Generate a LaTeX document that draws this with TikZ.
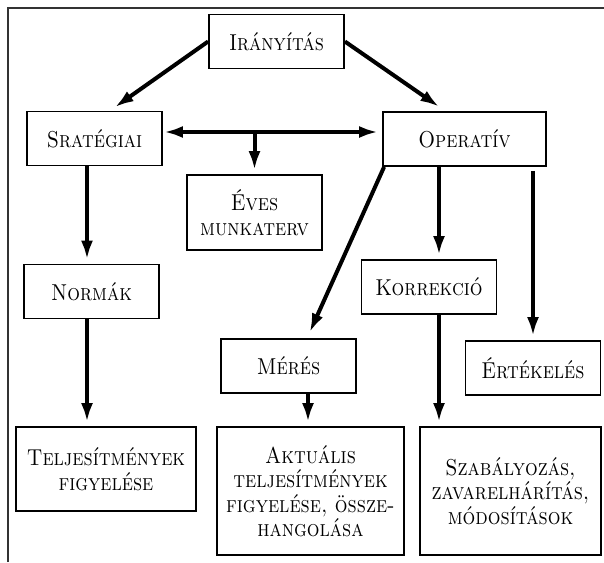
\documentclass[tikz,border=0pt]{standalone}
\usepackage{fontspec}
\setmainfont{Latin Modern Roman}[FakeStretch=0.87, SmallCapsFont={Latin Modern Roman Caps}, SmallCapsFeatures={FakeStretch=0.87}]
\usepackage{xcolor}
\usepackage{tikz}
\usetikzlibrary{arrows.meta}

\begin{document}
\begin{tikzpicture}[x=1pt,y=-1pt]
			\tikzstyle{box} = [draw, line width=1.8pt, minimum width=135pt, minimum height=54pt, inner sep=2pt, align=center, font=\fontsize{23}{24.5}\selectfont\scshape]
			\tikzstyle{bigbox} = [box, minimum width=182pt, minimum height=84pt]
			\tikzset{edge/.style = {line width=4pt, shorten >=4pt, -{Latex[length=19pt,width=12pt]}}}
			
			\useasboundingbox (0,0) rectangle (604,562);
			\draw[line width=1.6pt, black!80] (8,562) -- (8,8) -- (604,8);
			
			\node[box](iranyitas) at (276.5,41.5) {Irányítás};
			\node[box](strat) at (94.5,138.5) {Sratégiai};
			\node[box, minimum width=163pt](oper) at (464.5,139) {Operatív};
			\node[box, minimum height=75pt](eves) at (254.5,212.5) {Éves\\munkaterv};
			\node[box](normak) at (91.5,291.5) {Normák};
			\node[box](korr) at (429,287) {Korrekció};
			\node[box](meres) at (288.5,366) {Mérés};
			\node[box](ertek) at (533,368) {Értékelés};
			
			\node[bigbox, minimum width=180pt](telj) at (106,469) {Teljesítmények\\figyelése};
			\node[bigbox, minimum width=187pt, minimum height=128pt](aktual) at (310.5,491) {Aktuális\\teljesítmények\\figyelése, össze-\\hangolása};
			\node[bigbox, minimum width=181pt, minimum height=128pt](szab) at (510.5,491) {Szabályozás,\\zavarelhárítás,\\módosítások};
			
			\coordinate (stratin) at ([xshift=17pt,yshift=1pt]strat.north);
			\coordinate (operin) at ([xshift=-22pt,yshift=2pt]oper.north);
			\draw[edge](iranyitas.west) to (stratin);
			\draw[edge](iranyitas.east) to (operin);
			
			\draw[edge, shorten <=1pt, {Latex[length=19pt,width=12pt]}-{Latex[length=19pt,width=12pt]}]([yshift=6.5pt]strat.east) to ([yshift=6.5pt]strat.east -| oper.west);
			\coordinate (split) at ([yshift=6.5pt]strat.east -| eves.north);
			\draw[edge](split) to (eves.north);
			
			\draw[edge]([xshift=-7.5pt]strat.south) to ([xshift=-7.5pt]strat.south |- normak.north);
			\draw[edge]([xshift=-4.5pt]normak.south) to ([xshift=-4.5pt]normak.south |- telj.north);
			
			\coordinate (meresin) at ([xshift=19.5pt,yshift=2pt]meres.north);
			\draw[edge]([xshift=2pt]oper.south west) to (meresin);
			\draw[edge]([xshift=-25.5pt]oper.south) to ([xshift=-25.5pt]oper.south |- korr.north);
			\path (oper.south -| ertek.north) ++(0,4) coordinate (ertekstart);
			\draw[edge](ertekstart) to (ertek.north);
			
			\draw[edge]([xshift=19.5pt]meres.south) to ([xshift=19.5pt]meres.south |- aktual.north);
			\draw[edge]([xshift=10pt]korr.south) to ([xshift=10pt]korr.south |- szab.north);
			
			\end{tikzpicture}
\end{document}
